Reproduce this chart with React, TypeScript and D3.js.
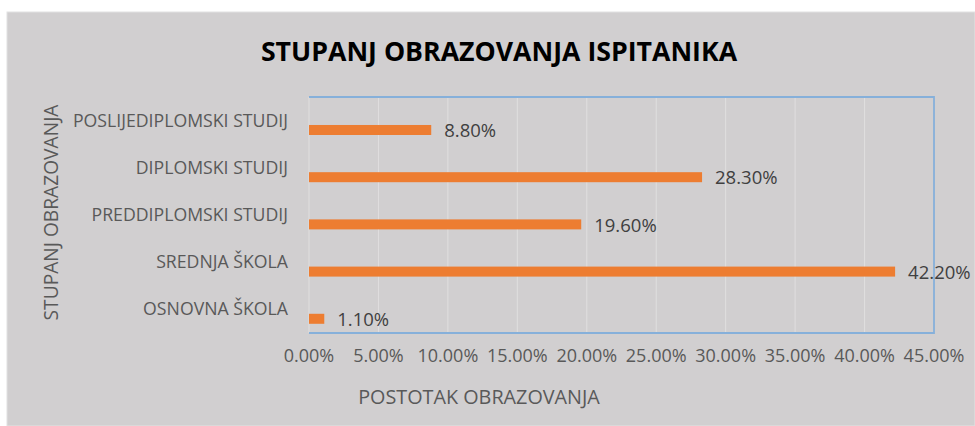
import React from "react";
import * as d3 from "d3";

const categories = [
  "OSNOVNA ŠKOLA",
  "SREDNJA ŠKOLA",
  "PREDDIPLOMSKI STUDIJ",
  "DIPLOMSKI STUDIJ",
  "POSLIJEDIPLOMSKI STUDIJ",
];
const values = [1.1, 42.2, 19.6, 28.3, 8.8];
const xTicks = [0, 5, 10, 15, 20, 25, 30, 35, 40, 45];
const title = "STUPANJ OBRAZOVANJA ISPITANIKA";
const xTitle = "POSTOTAK OBRAZOVANJA";
const yTitle = "STUPANJ OBRAZOVANJA";

const W = 975;
const H = 426;
const plot = { left: 309, right: 934, top: 97, bottom: 333 };
const font = "'Open Sans', 'Segoe UI', sans-serif";

export default function App() {
  const x = d3.scaleLinear().domain([0, 45]).range([plot.left, plot.right]);
  const y = d3
    .scaleBand<string>()
    .domain([...categories].reverse())
    .range([plot.top, plot.bottom])
    .paddingInner(0)
    .paddingOuter(0);
  const bw = y.bandwidth();
  const fmt = (v: number) => `${v.toFixed(2)}%`;

  return (
    <svg
      width={W}
      height={H}
      style={{ position: "absolute", left: 0, top: 0, background: "#ffffff" }}
    >
      <rect x={7} y={12} width={W - 7} height={H - 12} fill="#d1cfd0" stroke="#e2e2e2" strokeWidth={1} />
      <text
        x={499}
        y={61}
        textAnchor="middle"
        fontFamily={font}
        fontWeight={700}
        fontSize={26.7}
        fill="#000000"
      >
        {title}
      </text>
      {xTicks.map((t) => (
        <line
          key={"g" + t}
          x1={x(t)}
          x2={x(t)}
          y1={plot.top}
          y2={plot.bottom}
          stroke="#e0dfdf"
          strokeWidth={1}
        />
      ))}
      <path
        d={`M${plot.left},${plot.top}H${plot.right}V${plot.bottom}H${plot.left}`}
        fill="none"
        stroke="#86b0da"
        strokeWidth={1.8}
      />
      {categories.map((c, i) => {
        const y0 = (y(c) as number) + bw * 0.593;
        return (
          <g key={c}>
            <rect
              x={x(0)}
              y={y0}
              width={x(values[i]) - x(0)}
              height={bw * 0.212}
              fill="#ED7D31"
            />
            <text
              x={x(values[i]) + 13}
              y={y0 + bw * 0.11 + 7}
              fontFamily={font}
              fontSize={18.5}
              fill="#404040"
            >
              {fmt(values[i])}
            </text>
            <text
              x={288}
              y={(y(c) as number) + bw / 2 + 6}
              textAnchor="end"
              fontFamily={font}
              fontSize={17.7}
              fill="#595959"
            >
              {c}
            </text>
          </g>
        );
      })}
      {xTicks.map((t) => (
        <text
          key={"t" + t}
          x={x(t)}
          y={362}
          textAnchor="middle"
          fontFamily={font}
          fontSize={18}
          fill="#595959"
        >
          {fmt(t)}
        </text>
      ))}
      <text
        x={479}
        y={404}
        textAnchor="middle"
        fontFamily={font}
        fontSize={19.8}
        fill="#595959"
      >
        {xTitle}
      </text>
      <text
        transform={`translate(58,212.5) rotate(-90)`}
        textAnchor="middle"
        fontFamily={font}
        fontSize={19.2}
        fill="#595959"
      >
        {yTitle}
      </text>
    </svg>
  );
}
